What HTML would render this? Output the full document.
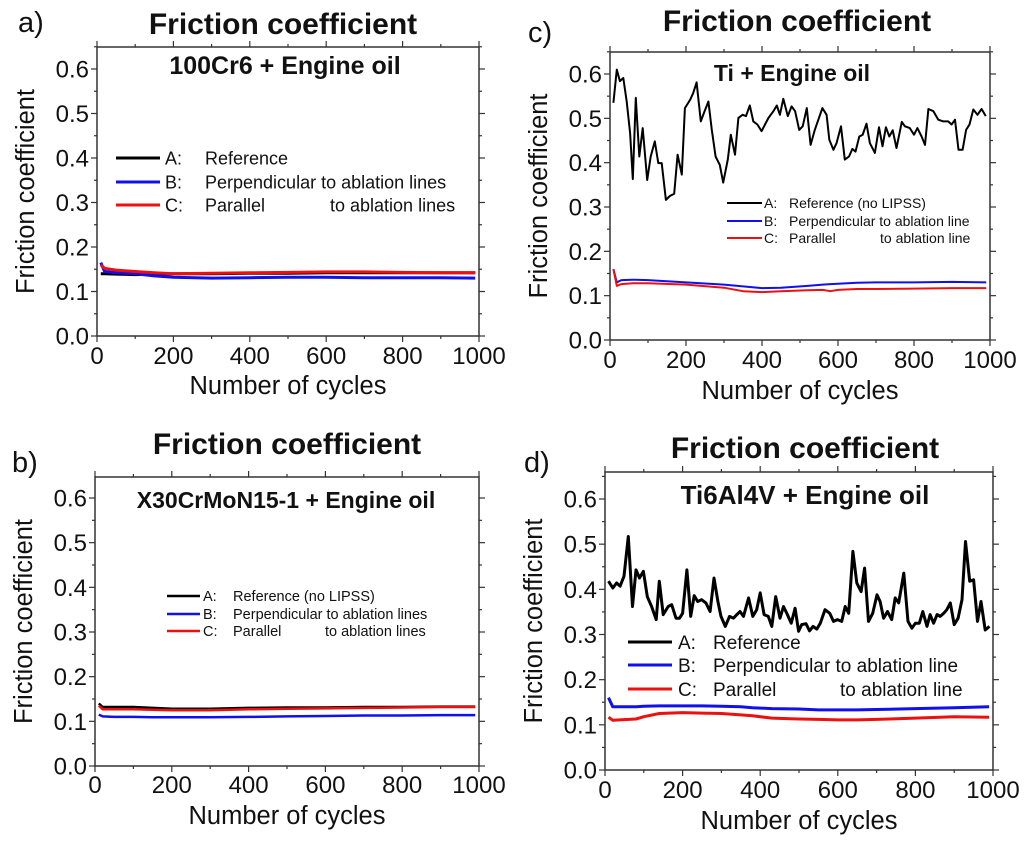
<!DOCTYPE html>
<html><head><meta charset="utf-8"><style>
body{margin:0;background:#fff;width:1024px;height:843px;overflow:hidden}
svg{display:block;font-family:"Liberation Sans",sans-serif}
</style></head><body>
<svg id="fig" width="1024" height="843" viewBox="0 0 1024 843" xmlns="http://www.w3.org/2000/svg"></svg>
<script>
// ---- data ----
const yTicks = [0.0, 0.1, 0.2, 0.3, 0.4, 0.5, 0.6];
const xTicks = [0, 200, 400, 600, 800, 1000];

// panel a: 100Cr6
const aCycles = [10, 20, 50, 100, 150, 200, 300, 400, 500, 600, 700, 800, 900, 990];
const aRef   = [0.140, 0.140, 0.139, 0.138, 0.139, 0.140, 0.140, 0.141, 0.141, 0.142, 0.142, 0.142, 0.142, 0.142];
const aPerp  = [0.165, 0.145, 0.142, 0.140, 0.135, 0.132, 0.130, 0.131, 0.132, 0.132, 0.131, 0.131, 0.131, 0.130];
const aPar   = [0.160, 0.152, 0.148, 0.145, 0.142, 0.140, 0.141, 0.142, 0.143, 0.144, 0.144, 0.143, 0.142, 0.142];

// panel b: X30CrMoN15-1
const bCycles = [10, 20, 50, 100, 150, 200, 300, 400, 500, 600, 700, 800, 900, 990];
const bRef   = [0.140, 0.132, 0.132, 0.132, 0.130, 0.128, 0.128, 0.130, 0.131, 0.131, 0.132, 0.132, 0.133, 0.133];
const bPerp  = [0.115, 0.111, 0.110, 0.110, 0.109, 0.109, 0.109, 0.110, 0.111, 0.112, 0.113, 0.113, 0.114, 0.114];
const bPar   = [0.135, 0.127, 0.127, 0.127, 0.126, 0.125, 0.125, 0.127, 0.128, 0.129, 0.130, 0.131, 0.132, 0.132];

// panel c: Ti
const cCycles = [9,18,26,35,44,53,60,68,77,86,98,107,118,127,136,147,158,169,178,189,197,211,219,228,239,247,259,268,278,289,298,310,318,329,338,349,358,368,377,388,399,408,417,430,439,447,456,468,478,487,498,507,518,528,539,559,570,577,588,596,608,618,629,638,646,656,665,675,684,697,708,717,726,735,744,754,768,776,789,800,809,820,829,838,851,864,877,890,899,908,917,928,937,946,956,967,978,989];
const cRef = [0.535,0.61,0.584,0.591,0.538,0.467,0.363,0.546,0.414,0.478,0.361,0.414,0.448,0.399,0.399,0.316,0.325,0.33,0.418,0.373,0.523,0.542,0.557,0.581,0.493,0.512,0.538,0.474,0.414,0.395,0.355,0.407,0.463,0.418,0.501,0.508,0.505,0.529,0.493,0.486,0.471,0.486,0.501,0.516,0.529,0.508,0.544,0.505,0.527,0.516,0.474,0.482,0.523,0.44,0.474,0.523,0.508,0.452,0.429,0.444,0.482,0.407,0.414,0.431,0.425,0.459,0.463,0.488,0.444,0.422,0.48,0.437,0.48,0.459,0.473,0.433,0.492,0.482,0.478,0.463,0.478,0.459,0.44,0.521,0.516,0.497,0.493,0.493,0.486,0.497,0.429,0.429,0.474,0.486,0.52,0.508,0.521,0.505];
const cCycles2 = [9, 18, 30, 60, 100, 200, 300, 350, 400, 450, 520, 560, 580, 600, 650, 700, 800, 900, 990];
const cPerp = [0.160, 0.130, 0.135, 0.136, 0.135, 0.130, 0.125, 0.121, 0.117, 0.118, 0.122, 0.125, 0.126, 0.127, 0.129, 0.130, 0.130, 0.131, 0.130];
const cPar  = [0.160, 0.122, 0.126, 0.128, 0.128, 0.125, 0.118, 0.110, 0.108, 0.110, 0.112, 0.113, 0.110, 0.113, 0.115, 0.115, 0.116, 0.117, 0.117];

// panel d: Ti6Al4V
const dCycles = [9,20,30,39,49,60,71,80,89,99,109,120,132,140,150,163,172,183,192,200,211,221,230,239,249,260,271,281,291,299,310,321,331,340,348,357,370,381,391,400,410,421,430,440,451,460,470,480,490,499,507,518,527,536,546,555,567,579,589,599,610,619,628,639,649,660,669,679,690,701,709,718,728,739,748,757,770,781,791,800,810,819,830,838,847,856,864,873,881,890,900,910,920,929,940,950,960,969,980,991];
const dRef = [0.418,0.403,0.414,0.407,0.429,0.517,0.362,0.443,0.425,0.44,0.384,0.362,0.333,0.418,0.344,0.362,0.366,0.336,0.336,0.347,0.443,0.34,0.386,0.373,0.377,0.37,0.351,0.425,0.373,0.34,0.318,0.34,0.336,0.344,0.351,0.34,0.381,0.34,0.355,0.392,0.344,0.34,0.318,0.384,0.336,0.362,0.344,0.325,0.358,0.307,0.322,0.324,0.308,0.318,0.312,0.325,0.355,0.347,0.329,0.333,0.329,0.362,0.347,0.484,0.414,0.395,0.447,0.329,0.347,0.388,0.373,0.336,0.351,0.333,0.381,0.37,0.436,0.329,0.314,0.325,0.325,0.351,0.318,0.344,0.325,0.344,0.34,0.347,0.355,0.37,0.322,0.336,0.377,0.506,0.418,0.421,0.329,0.373,0.31,0.318];
const dCycles2 = [9, 20, 80, 100, 140, 200, 250, 300, 350, 380, 430, 500, 550, 600, 650, 700, 800, 900, 990];
const dPerp = [0.160, 0.140, 0.140, 0.141, 0.142, 0.142, 0.142, 0.141, 0.140, 0.138, 0.136, 0.135, 0.133, 0.133, 0.133, 0.134, 0.136, 0.138, 0.140];
const dPar  = [0.117, 0.110, 0.113, 0.118, 0.125, 0.127, 0.126, 0.125, 0.122, 0.120, 0.115, 0.113, 0.112, 0.111, 0.111, 0.112, 0.115, 0.118, 0.117];

// ---- drawing ----
const svg = document.getElementById('fig');
const NS = 'http://www.w3.org/2000/svg';
function mk(tag, attrs, parent){
  const e = document.createElementNS(NS, tag);
  for (const k in attrs) e.setAttribute(k, attrs[k]);
  (parent||svg).appendChild(e);
  return e;
}
function txt(s, x, y, size, opts, parent){
  const t = mk('text', Object.assign({x:x, y:y, 'font-size':size, fill:'#111'}, opts||{}), parent);
  t.textContent = s;
  return t;
}

const panels = [
  {id:'a', L:97, R:479, T:47, Y0:336, Y6:69, title:'Friction coefficient', tx:283, ty:34, lab:'a)', lx:18, ly:32,
   sub:'100Cr6 + Engine oil', sx:285, sy:74, subSize:25, tickBase:364, xtY:394,
   series:[[aCycles,aRef,'#000'],[aCycles,aPerp,'#1010ee'],[aCycles,aPar,'#ee1010']], lw:3,
   leg:{x1:116,x2:160,ys:[158,182,205],lab:165,txt:205,to:330,size:18,
     items:['Reference','Perpendicular to ablation lines','Parallel'],toTxt:'to ablation lines'}},
  {id:'b', L:95, R:479, T:477, Y0:766, Y6:498, title:'Friction coefficient', tx:287, ty:454, lab:'b)', lx:12, ly:472,
   sub:'X30CrMoN15-1 + Engine oil', sx:286, sy:508, subSize:23, tickBase:793, xtY:824,
   series:[[bCycles,bRef,'#000'],[bCycles,bPerp,'#1010ee'],[bCycles,bPar,'#ee1010']], lw:2.5,
   leg:{x1:167,x2:200,ys:[596,614,631],lab:203,txt:233,to:325,size:14.5,
     items:['Reference (no LIPSS)','Perpendicular to ablation lines','Parallel'],toTxt:'to ablation lines'}},
  {id:'c', L:610, R:990, T:52, Y0:340, Y6:74, title:'Friction coefficient', tx:797, ty:31, lab:'c)', lx:528, ly:42,
   sub:'Ti + Engine oil', sx:792, sy:81, subSize:23, tickBase:368, xtY:399,
   series:[[cCycles,cRef,'#000'],[cCycles2,cPerp,'#1010ee'],[cCycles2,cPar,'#ee1010']], lw:2,
   leg:{x1:727,x2:762,ys:[203,221,238],lab:764,txt:789,to:880,size:14,
     items:['Reference (no LIPSS)','Perpendicular to ablation line','Parallel'],toTxt:'to ablation line'}},
  {id:'d', L:605, R:993, T:472, Y0:770, Y6:499, title:'Friction coefficient', tx:805, ty:458, lab:'d)', lx:524, ly:472,
   sub:'Ti6Al4V + Engine oil', sx:805, sy:504, subSize:26, tickBase:798, xtY:829,
   series:[[dCycles,dRef,'#000'],[dCycles2,dPerp,'#1010ee'],[dCycles2,dPar,'#ee1010']], lw:3,
   leg:{x1:628,x2:672,ys:[642,665,689],lab:678,txt:713,to:840,size:19,
     items:['Reference','Perpendicular to ablation line','Parallel'],toTxt:'to ablation line'}}
];

panels.forEach(p => {
  const g = mk('g', {});
  
  
  const xs = v => p.L + (v/1000)*(p.R - p.L);
  const ys = v => p.Y0 - (v/0.6)*(p.Y0 - p.Y6);
  const t1 = txt(p.lab, p.lx, p.ly, 29, {}, g);
  
  
  const t2 = txt(p.title, p.tx, p.ty, 30, {'font-weight':'bold','text-anchor':'middle'}, g);
  
  
  const fr = mk('rect', {x:p.L, y:p.T, width:p.R-p.L, height:p.Y0-p.T, fill:'none', stroke:'#333', 'stroke-width':1.5}, g);
  
  
  for (let v = 0; v <= 1000; v += 100) {
    const x = xs(v), len = (v % 200 === 0) ? 6 : 3;
    mk('line', {x1:x, y1:p.Y0, x2:x, y2:p.Y0+len, stroke:'#333', 'stroke-width':1.2}, g);
    mk('line', {x1:x, y1:p.T, x2:x, y2:p.T-len, stroke:'#333', 'stroke-width':1.2}, g);
  }
  for (let i = 0; i <= 13; i++) {
    const v = i*0.05, y = ys(v), len = (i % 2 === 0) ? 6 : 3;
    if (y < p.T - 0.5) continue;
    mk('line', {x1:p.L, y1:y, x2:p.L-len, y2:y, stroke:'#333', 'stroke-width':1.2}, g);
    mk('line', {x1:p.R, y1:y, x2:p.R+len, y2:y, stroke:'#333', 'stroke-width':1.2}, g);
  }
  xTicks.forEach(v => {
    const t = txt(String(v), xs(v), p.tickBase, 24, {'text-anchor':'middle'}, g);
    
    
  });
  yTicks.forEach(v => {
    const t = txt(v.toFixed(1), p.L-8, ys(v)+8.5, 24, {'text-anchor':'end'}, g);
    
    
  });
  const xt = txt('Number of cycles', (p.L+p.R)/2, p.xtY, 25.5, {'text-anchor':'middle'}, g);
  
  
  const cy = (p.T+p.Y0)/2;
  const yt = txt('Friction coefficient', 0, 0, 25.5, {'text-anchor':'middle', transform:'translate(' + (p.L-63) + ',' + cy + ') rotate(-90)'}, g);
  
  
  const st = txt(p.sub, p.sx, p.sy, p.subSize, {'font-weight':'bold','text-anchor':'middle'}, g);
  
  
  const names = ['series-a-reference','series-b-perpendicular','series-c-parallel'];
  p.series.forEach((s, k) => {
    const pts = s[0].map((c, i) => xs(c).toFixed(1) + ',' + ys(s[1][i]).toFixed(1)).join(' ');
    const pl = mk('polyline', {points:pts, fill:'none', stroke:s[2], 'stroke-width':p.lw, 'stroke-linejoin':'round'}, g);
    
    
  });
  const lg = p.leg, cols = ['#000','#1010ee','#ee1010'], keys = ['A:','B:','C:'];
  const lgG = mk('g', {}, g);
  
  
  lg.ys.forEach((y, i) => {
    mk('line', {x1:lg.x1, y1:y, x2:lg.x2, y2:y, stroke:cols[i], 'stroke-width':p.lw}, lgG);
    txt(keys[i], lg.lab, y + lg.size*0.36, lg.size, {}, lgG);
    txt(lg.items[i], lg.txt, y + lg.size*0.36, lg.size, {}, lgG);
    if (i === 2) txt(lg.toTxt, lg.to, y + lg.size*0.36, lg.size, {}, lgG);
  });
});
</script>
</body></html>
